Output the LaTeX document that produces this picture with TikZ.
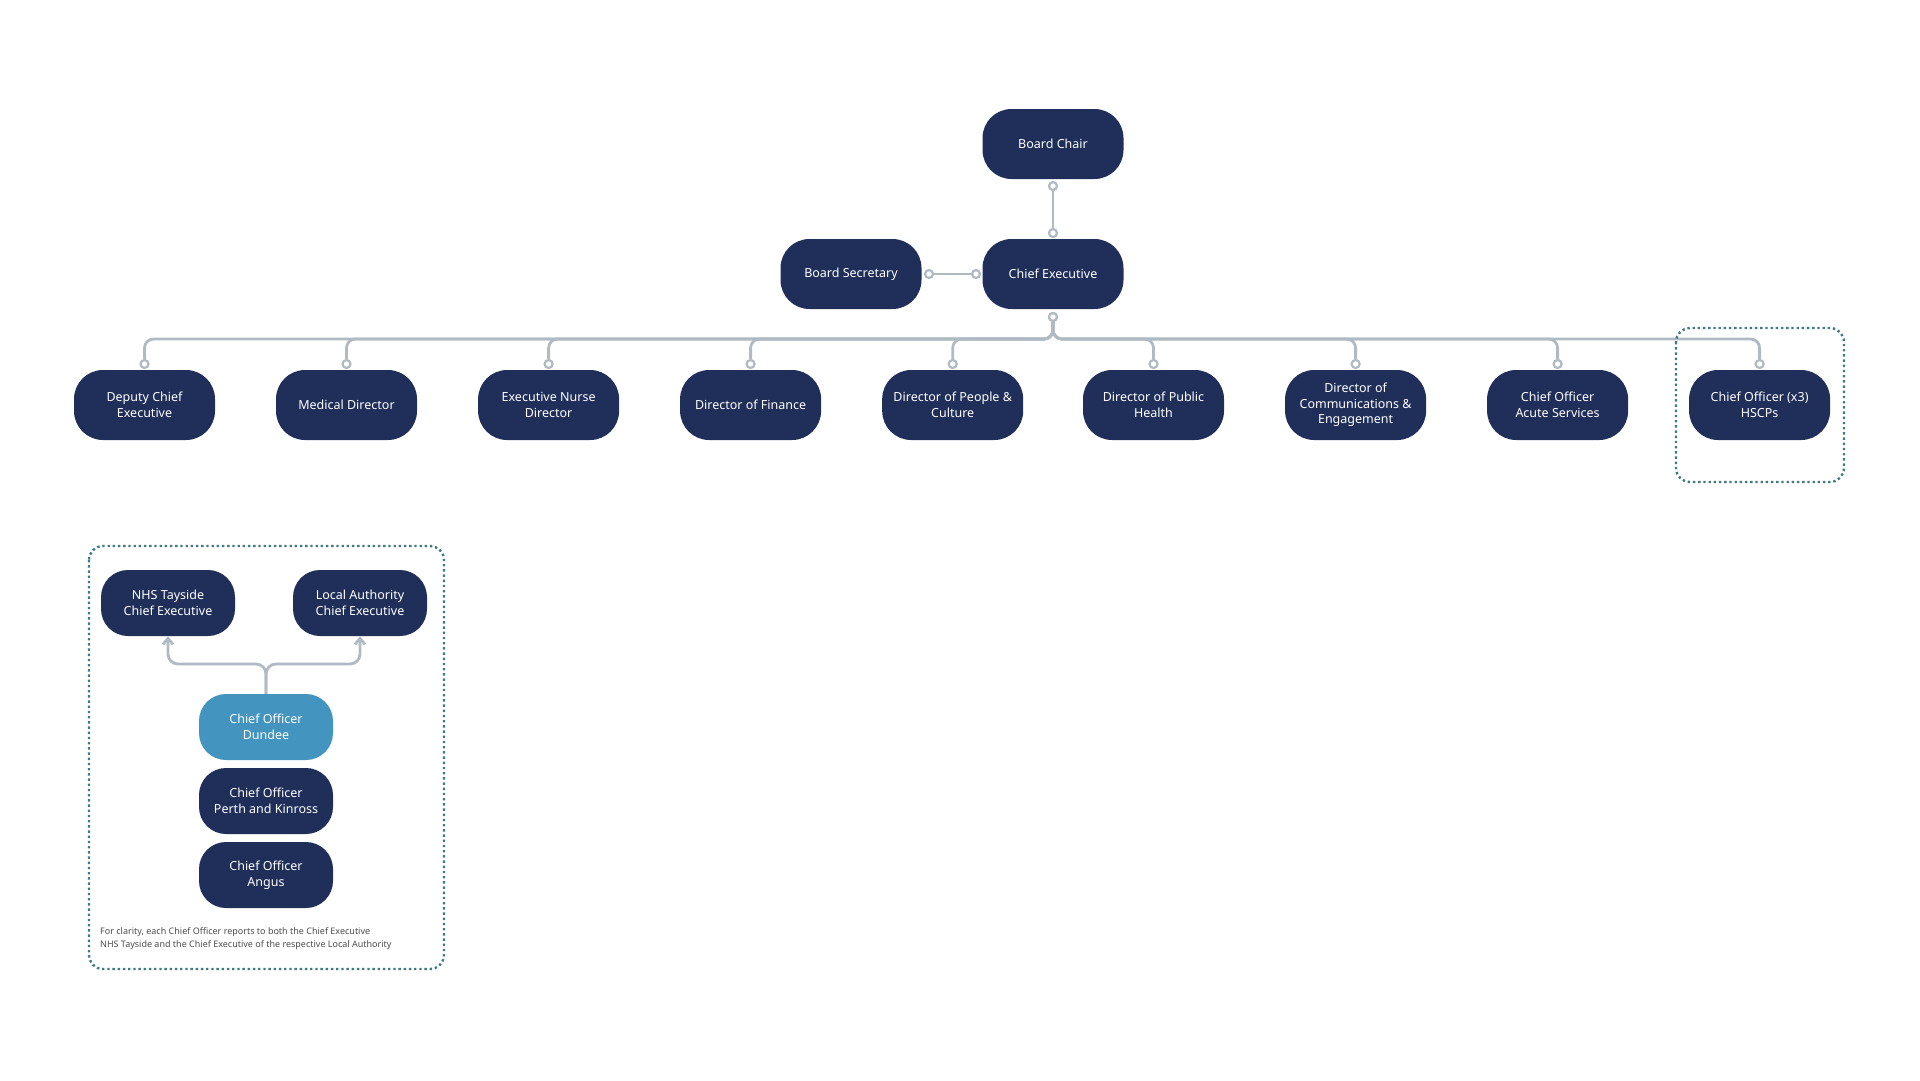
\documentclass[tikz,border=0pt]{standalone}
\usepackage{fontspec}
\setmainfont{Noto Sans}
\usetikzlibrary{calc,arrows.meta}
\definecolor{navy}{HTML}{1F2F5A}
\definecolor{teal}{HTML}{4394BF}
\definecolor{conn}{HTML}{B0BAC3}
\definecolor{dash}{HTML}{3E7A80}
\begin{document}
\begin{tikzpicture}[x=1pt,y=-1pt,
  box/.style={fill=navy,rounded corners=29pt,minimum width=141pt,minimum height=70pt,text=white,align=center,font=\fontsize{12.5}{15.5}\selectfont,inner sep=2pt},
  sbox/.style={box,rounded corners=27pt,minimum width=134pt,minimum height=66pt},
  dot/.style={circle,draw=conn,fill=white,line width=2.2pt,minimum size=8pt,inner sep=0pt},
  con/.style={draw=conn,line width=2.8pt},
  dbox/.style={draw=dash,line width=2.4pt,dash pattern=on 2.4pt off 2.8pt,rounded corners=14pt}]
\useasboundingbox (0,0) rectangle (1920,1080);
\node[box] (bc) at (1053,144) {Board Chair};
\node[box] (ce) at (1053,274) {Chief Executive};
\node[box] (bs) at (851,274) {Board Secretary};
\node[dot] (bc1) at (1053,186) {};
\node[dot] (ce1) at (1053,233) {};
\node[dot] (bs1) at (929,274) {};
\node[dot] (ce2) at (976,274) {};
\node[dot] (ce3) at (1053,317) {};
\draw[con] (bc1) -- (ce1);
\draw[con] (bs1) -- (ce2);
\foreach \i/\x/\t in {1/144.5/{Deputy Chief\\Executive},2/346.5/{Medical Director},3/548.6/{Executive Nurse\\Director},4/750.6/{Director of Finance},5/952.7/{Director of People \&\\Culture},6/1153.5/{Director of Public\\Health},7/1355.6/{Director of\\Communications \&\\Engagement},8/1557.6/{Chief Officer\\Acute Services},9/1759.6/{Chief Officer (x3)\\HSCPs}}{
  \node[box] (r\i) at (\x,405) {\t};
  \node[dot] (d\i) at (\x,364) {};
  \draw[con,rounded corners=9pt] (ce3.south) |- (\x,339) -- (d\i.north);
}
\node[dot] at (1053,317) {};
\draw[dbox] (1676,328) rectangle (1844,482);
\draw[dbox] (89,546) rectangle (444,969);
\node[sbox] (nhs) at (168,603) {NHS Tayside\\Chief Executive};
\node[sbox] (la) at (360,603) {Local Authority\\Chief Executive};
\node[sbox,fill=teal] (dun) at (266,727) {Chief Officer\\Dundee};
\node[sbox] (per) at (266,801) {Chief Officer\\Perth and Kinross};
\node[sbox] (ang) at (266,875) {Chief Officer\\Angus};
\draw[con,rounded corners=10pt,-{Straight Barb[length=6pt,width=10pt]}] (dun.north) -- (266,664) -| (nhs.south);
\draw[con,rounded corners=10pt,-{Straight Barb[length=6pt,width=10pt]}] (dun.north) -- (266,664) -| (la.south);
\node[anchor=north west,align=left,text=black!70,font=\fontsize{9}{13}\selectfont,inner sep=0pt] (note) at (100,927) {For clarity, each Chief Officer reports to both the Chief Executive\\NHS Tayside and the Chief Executive of the respective Local Authority};
\end{tikzpicture}
\end{document}
